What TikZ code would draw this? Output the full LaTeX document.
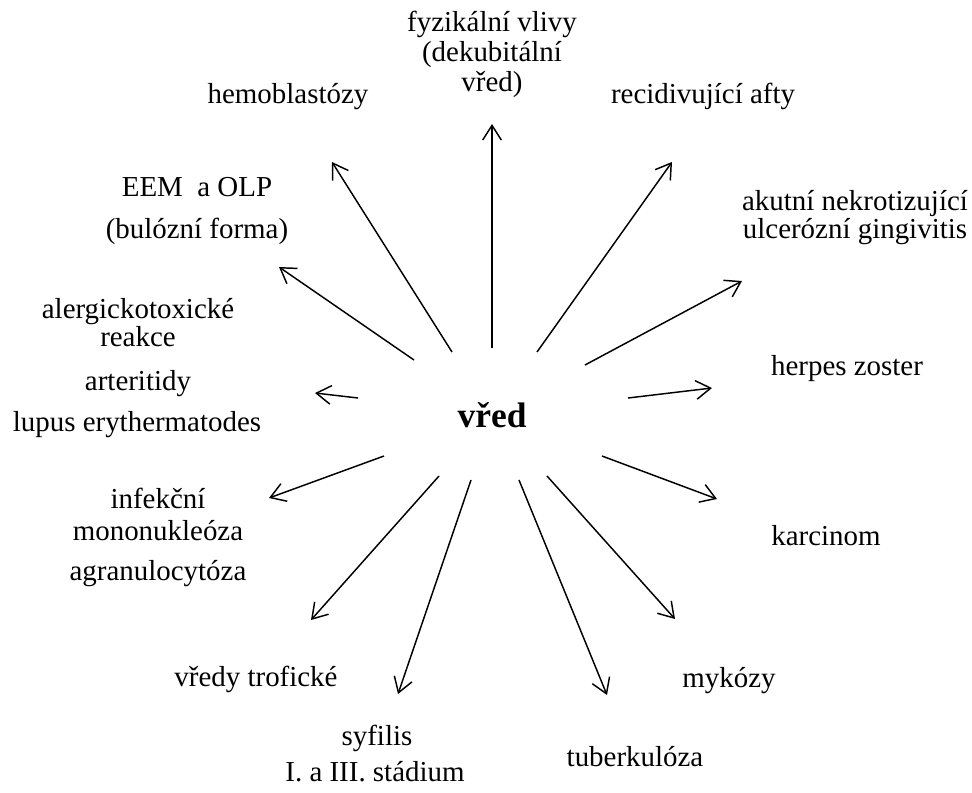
\documentclass[tikz,border=0pt]{standalone}
\usepackage{fontspec}
\setmainfont{Liberation Serif}
\usetikzlibrary{arrows.meta}
\begin{document}
\begin{tikzpicture}[x=0.75pt,y=-0.75pt,
  lbl/.style={inner sep=0pt,font=\fontsize{21.7}{26}\selectfont,text height=0.68em,text depth=0.2em},
  mid/.style={inner sep=0pt,font=\fontsize{26.6}{30}\selectfont\bfseries},
  arr/.style={line width=1.1pt,-{Straight Barb[length=11pt,width=14pt,line width=1.1pt]}}]
\useasboundingbox (0,0) rectangle (972,793);
\node[mid] (vred) at (492,415) {vřed};
% labels
\node[lbl] (fyz1) at (492,28) {fyzikální vlivy};
\node[lbl] (fyz2) at (492,58) {(dekubitální};
\node[lbl] (fyz3) at (492,88) {vřed)};
\node[lbl] (hemo) at (288,100) {hemoblastózy};
\node[lbl] (recid) at (703,100) {recidivující afty};
\node[lbl] (eem1) at (197,193) {EEM~~a OLP};
\node[lbl] (eem2) at (197,235) {(bulózní forma)};
\node[lbl] (ak1) at (855,207) {akutní nekrotizující};
\node[lbl] (ak2) at (855,235) {ulcerózní gingivitis};
\node[lbl] (al1) at (138,315) {alergickotoxické};
\node[lbl] (al2) at (138,343) {reakce};
\node[lbl] (art) at (138,387) {arteritidy};
\node[lbl] (lup) at (137,428) {lupus erythermatodes};
\node[lbl] (herp) at (847,372) {herpes zoster};
\node[lbl] (inf1) at (158,505) {infekční};
\node[lbl] (inf2) at (158,537) {mononukleóza};
\node[lbl] (agr) at (158,577) {agranulocytóza};
\node[lbl] (karc) at (826,542) {karcinom};
\node[lbl] (trof) at (256,683) {vředy trofické};
\node[lbl] (syf1) at (377,742) {syfilis};
\node[lbl] (syf2) at (375,778) {I. a III. stádium};
\node[lbl] (tub) at (635,763) {tuberkulóza};
\node[lbl] (myk) at (729,684) {mykózy};
% arrow ends
\coordinate (s1) at (492,348); \coordinate (t1) at (492,124);
\coordinate (s2) at (452,352); \coordinate (t2) at (332,162);
\coordinate (s3) at (537,352); \coordinate (t3) at (672,162);
\coordinate (s4) at (414,360); \coordinate (t4) at (279,267);
\coordinate (s5) at (585,365); \coordinate (t5) at (742,281);
\coordinate (s6) at (358,398); \coordinate (t6) at (315,393);
\coordinate (s7) at (628,398); \coordinate (t7) at (712,388);
\coordinate (s8) at (384,456); \coordinate (t8) at (269,498);
\coordinate (s9) at (602,456); \coordinate (t9) at (717,499);
\coordinate (s10) at (439,476); \coordinate (t10) at (311,620);
\coordinate (s11) at (471,480); \coordinate (t11) at (398,694);
\coordinate (s12) at (519,480); \coordinate (t12) at (607,695);
\coordinate (s13) at (547,476); \coordinate (t13) at (675,619);
\foreach \i in {1,...,13} \draw[arr] (s\i) -- (t\i);
\end{tikzpicture}
\end{document}
